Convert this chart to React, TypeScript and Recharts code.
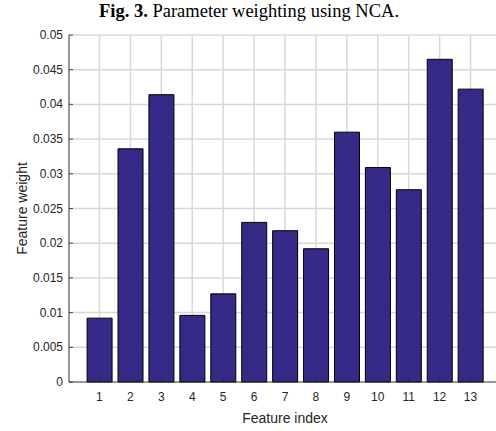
import type { CSSProperties } from 'react';
import { BarChart, Bar, XAxis, YAxis, CartesianGrid } from 'recharts';

// ---------------------------------------------------------------------------
// Fig. 3 — Parameter weighting using NCA (MATLAB-style bar chart)
// ---------------------------------------------------------------------------

const features = ['1', '2', '3', '4', '5', '6', '7', '8', '9', '10', '11', '12', '13'];
const weights = [
  0.0092, 0.0336, 0.0414, 0.0096, 0.0127, 0.023, 0.0218, 0.0192, 0.036, 0.0309, 0.0277,
  0.0465, 0.0422,
];
const weightTicks = [0, 0.005, 0.01, 0.015, 0.02, 0.025, 0.03, 0.035, 0.04, 0.045, 0.05];

const data = features.map((feature, i) => ({ feature, weight: weights[i] }));

const AXIS = '#262626';
const GRID = '#d8d8d8';
const BAR_FILL = '#352a87';
const SANS = '"Liberation Sans", Arial, sans-serif';

const frame: CSSProperties = {
  position: 'absolute',
  left: 0,
  top: 0,
  width: 496,
  height: 431,
  background: '#fff',
};

const fmt = (v: number) => String(Number(v.toFixed(3)));

function BottomTick({ x, y, payload }: any) {
  return (
    <g>
      <line x1={x} x2={x} y1={y} y2={y - 4} stroke={AXIS} strokeWidth={0.8} />
      <text x={x} y={y + 19} textAnchor="middle" fill={AXIS} fontSize={12} fontFamily={SANS}>
        {payload.value}
      </text>
    </g>
  );
}

function TopTick({ x, y }: any) {
  return <line x1={x} x2={x} y1={y} y2={y + 4} stroke={AXIS} strokeWidth={0.8} />;
}

function LeftTick({ x, y, payload }: any) {
  return (
    <g>
      <line x1={x} x2={x + 4} y1={y} y2={y} stroke={AXIS} strokeWidth={0.8} />
      <text x={x - 6} y={y + 4} textAnchor="end" fill={AXIS} fontSize={12} fontFamily={SANS}>
        {fmt(payload.value)}
      </text>
    </g>
  );
}

export default function App() {
  return (
    <div style={frame}>
      <svg width={496} height={26} style={{ position: 'absolute', left: 0, top: 0 }}>
        <text
          x={249}
          y={17}
          textAnchor="middle"
          fontSize={18.5}
          fontFamily={'"Liberation Serif", "Times New Roman", serif'}
          fill="#000"
        >
          <tspan fontWeight="bold">Fig. 3.</tspan>
          <tspan> Parameter weighting using NCA.</tspan>
        </text>
      </svg>
      <BarChart
        width={496}
        height={431}
        data={data}
        margin={{ top: 35, right: -5, bottom: 0, left: 0 }}
        barCategoryGap="10%"
      >
        <CartesianGrid stroke={GRID} strokeWidth={1.5} />
        <Bar
          dataKey="weight"
          fill={BAR_FILL}
          stroke="#000"
          strokeWidth={1}
          isAnimationActive={false}
        />
        <XAxis
          dataKey="feature"
          height={49}
          padding={{ left: 15, right: 15 }}
          tickSize={0}
          tickMargin={0}
          tickLine={false}
          axisLine={{ stroke: AXIS, strokeWidth: 0.8 }}
          tick={<BottomTick />}
          interval={0}
          label={{
            value: 'Feature index',
            position: 'insideBottom',
            offset: 8,
            fill: AXIS,
            fontSize: 14,
            fontFamily: SANS,
          }}
        />
        <XAxis
          xAxisId="top"
          dataKey="feature"
          orientation="top"
          height={0}
          padding={{ left: 15, right: 15 }}
          tickSize={0}
          tickMargin={0}
          tickLine={false}
          axisLine={{ stroke: AXIS, strokeWidth: 0.8 }}
          tick={<TopTick />}
          interval={0}
        />
        <YAxis
          width={69}
          domain={[0, 0.05]}
          ticks={weightTicks}
          interval={0}
          tickSize={0}
          tickMargin={0}
          tickLine={false}
          axisLine={{ stroke: AXIS, strokeWidth: 0.8 }}
          tick={<LeftTick />}
          label={{
            value: 'Feature weight',
            angle: -90,
            position: 'insideLeft',
            offset: 18,
            dx: 4,
            fill: AXIS,
            fontSize: 14,
            fontFamily: SANS,
            style: { textAnchor: 'middle' },
          }}
        />
      </BarChart>
    </div>
  );
}
